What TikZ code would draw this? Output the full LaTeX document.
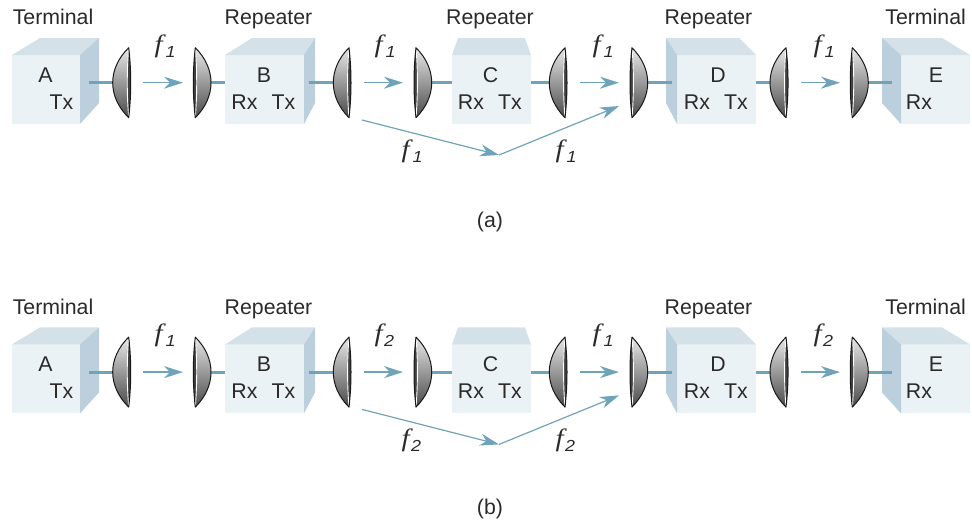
\documentclass[tikz,border=0pt]{standalone}
\usepackage{fontspec}
\setmainfont{Liberation Sans}
\newfontface\fglyph[FakeStretch=1.15]{Liberation Serif Italic}
\newfontface\subglyph[FakeStretch=1.12]{Liberation Sans Italic}
\usetikzlibrary{arrows.meta}
\definecolor{fr}{HTML}{EBF2F5}
\definecolor{tp}{HTML}{D4E1E9}
\definecolor{sd}{HTML}{BBCFDC}
\definecolor{ln}{HTML}{6FA3BA}
\definecolor{tx}{HTML}{2B2A29}
\tikzset{
 lab/.style={font=\fontsize{21.3}{21.3}\selectfont,text=tx,inner sep=0pt,anchor=base},
 flab/.style={text=tx,inner sep=0pt,anchor=base west},
 feedline/.style={draw=ln,line width=3pt},
 beam/.style={draw=ln,line width=1.5pt,-{Stealth[length=19pt,width=12pt,inset=6pt]}},
 tipped/.style={draw=ln,line width=1.2pt,-{Stealth[length=19pt,width=12pt,inset=6pt]}},
}
% #1 x of f origin, #2 baseline of the f, #3 subscript, #4 kern
\newcommand{\fl}[4]{\node[flab] at (#1,#2) {{\fglyph\fontsize{25}{25}\selectfont f}\hspace*{#4pt}\raisebox{-5pt}{\subglyph\fontsize{16}{16}\selectfont #3}};}
% lens: apex x=#1, bulge x=#2, centre y=#3
\newcommand{\lensshape}[3]{%
 \pgfmathsetmacro{\ctl}{#1+(#2-#1)*4/3}%
 \pgfmathsetmacro{\bk}{#1-(#2-#1)*0.17}%
 \pgfmathsetmacro{\inner}{#1+(#2-#1)*0.12}%
 \begin{scope}
 \path[clip] (#1,#3-35) .. controls (\ctl,#3-14) and (\ctl,#3+14) .. (#1,#3+35) .. controls (\bk,#3+12) and (\bk,#3-12) .. (#1,#3-35) -- cycle;
 \shade[left color=black!8,right color=black!72,shading angle=0] (#2,#3-36) rectangle (#1,#3+36);
 \end{scope}
 \begin{scope}
 \path[clip] (#1,#3-35) .. controls (\ctl,#3-14) and (\ctl,#3+14) .. (#1,#3+35) .. controls (\bk,#3+12) and (\bk,#3-12) .. (#1,#3-35) -- cycle;
 \fill[black!75] (#1,#3-35) .. controls (\inner,#3-12) and (\inner,#3+12) .. (#1,#3+35) .. controls (\bk,#3+12) and (\bk,#3-12) .. (#1,#3-35) -- cycle;
 \draw[white,line width=0.9pt] (#1,#3-35) .. controls (\inner,#3-12) and (\inner,#3+12) .. (#1,#3+35);
 \end{scope}
 \draw[black!90,line width=1pt,line join=round] (#1,#3-35) .. controls (\ctl,#3-14) and (\ctl,#3+14) .. (#1,#3+35) .. controls (\bk,#3+12) and (\bk,#3-12) .. (#1,#3-35) -- cycle;
}
\newcommand{\row}{%
 \fill[fr] (12,55) rectangle (80,124);
 \fill[tp] (12,55) -- (40,38) -- (99,38) -- (80,55) -- cycle;
 \fill[sd] (80,55) -- (99,38) -- (99,103) -- (80,124) -- cycle;
 \fill[fr] (225,55) rectangle (304,124);
 \fill[tp] (225,55) -- (252,38) -- (315,38) -- (304,55) -- cycle;
 \fill[sd] (304,55) -- (315,38) -- (315,103) -- (304,124) -- cycle;
 \fill[fr] (452,55) rectangle (531,124);
 \fill[tp] (452,55) -- (458,38) -- (525,38) -- (531,55) -- cycle;
 \fill[fr] (677,55) rectangle (756,124);
 \fill[tp] (677,55) -- (666,38) -- (739,38) -- (756,55) -- cycle;
 \fill[sd] (677,55) -- (666,38) -- (666,103) -- (677,124) -- cycle;
 \fill[fr] (901,55) rectangle (970,124);
 \fill[tp] (901,55) -- (882,38) -- (942,38) -- (970,55) -- cycle;
 \fill[sd] (901,55) -- (882,38) -- (882,103) -- (901,124) -- cycle;
 \coordinate (a1) at (89,82.7); \coordinate (a2) at (114,82.7);
 \coordinate (b1) at (210,82.7); \coordinate (b2) at (225,82.7);
 \coordinate (b3) at (309,82.7); \coordinate (b4) at (334,82.7);
 \coordinate (c1) at (431,82.7); \coordinate (c2) at (452,82.7);
 \coordinate (c3) at (531,82.7); \coordinate (c4) at (551,82.7);
 \coordinate (d1) at (647,82.7); \coordinate (d2) at (672,82.7);
 \coordinate (d3) at (756,82.7); \coordinate (d4) at (771,82.7);
 \coordinate (e1) at (867,82.7); \coordinate (e2) at (892,82.7);
 \draw[feedline] (a1) -- (a2);
 \draw[feedline] (b1) -- (b2);
 \draw[feedline] (b3) -- (b4);
 \draw[feedline] (c1) -- (c2);
 \draw[feedline] (c3) -- (c4);
 \draw[feedline] (d1) -- (d2);
 \draw[feedline] (d3) -- (d4);
 \draw[feedline] (e1) -- (e2);
 \lensshape{128.7}{112.7}{82.7}
 \lensshape{195.3}{211}{82.7}
 \lensshape{349}{333.3}{82.7}
 \lensshape{416}{431.7}{82.7}
 \lensshape{565}{549.3}{82.7}
 \lensshape{632}{647.7}{82.7}
 \lensshape{786}{770}{82.7}
 \lensshape{852.3}{868.3}{82.7}
 \coordinate (s1) at (143,82.7); \coordinate (t1) at (183,82.7);
 \coordinate (s2) at (364,82.7); \coordinate (t2) at (403,82.7);
 \coordinate (s3) at (580,82.7); \coordinate (t3) at (619,82.7);
 \coordinate (s4) at (801,82.7); \coordinate (t4) at (840,82.7);
 \coordinate (s5) at (362,120); \coordinate (t5) at (499,155); \coordinate (t6) at (619,106);
 \draw[beam] (s1) -- (t1);
 \draw[beam] (s2) -- (t2);
 \draw[beam] (s3) -- (t3);
 \draw[beam] (s4) -- (t4);
 \draw[tipped] (s5) -- (t5);
 \draw[tipped] (t5) -- (t6);
 \node[lab] at (53,24.7) {Terminal};
 \node[lab] at (268.5,24.7) {Repeater};
 \node[lab] at (708.5,24.7) {Repeater};
 \node[lab] at (925.6,24.7) {Terminal};
 \node[lab] at (45.6,82) {A};
 \node[lab] at (61.5,109) {Tx};
 \node[lab] at (264,82) {B};
 \node[lab] at (244.5,109) {Rx};
 \node[lab] at (283.5,109) {Tx};
 \node[lab] at (490.5,82) {C};
 \node[lab] at (471,109) {Rx};
 \node[lab] at (510,109) {Tx};
 \node[lab] at (718,82) {D};
 \node[lab] at (697,109) {Rx};
 \node[lab] at (736,109) {Tx};
 \node[lab] at (936,82) {E};
 \node[lab] at (919,109) {Rx};
}
\begin{document}
\begin{tikzpicture}[x=1pt,y=-1pt]
\useasboundingbox (0,0) rectangle (972,520);
\row
\node[lab] at (490,24.7) {Repeater};
\fl{154.5}{52.5}{1}{3}\fl{374.5}{52.5}{1}{3}\fl{592.5}{52.5}{1}{3}\fl{813.5}{52.5}{1}{3}\fl{401.5}{157.5}{1}{3}\fl{555.5}{157.5}{1}{3}
\node[lab] at (490,227) {(a)};
\begin{scope}[yshift=-289.4pt]
\row
\fl{154.5}{52.5}{1}{3}\fl{374.5}{52.5}{2}{1.5}\fl{592.5}{52.5}{1}{3}\fl{813.5}{52.5}{2}{1.5}\fl{401.5}{157.5}{2}{1.5}\fl{555.5}{157.5}{2}{1.5}
\node[lab] at (490,225) {(b)};
\end{scope}
\end{tikzpicture}
\end{document}
